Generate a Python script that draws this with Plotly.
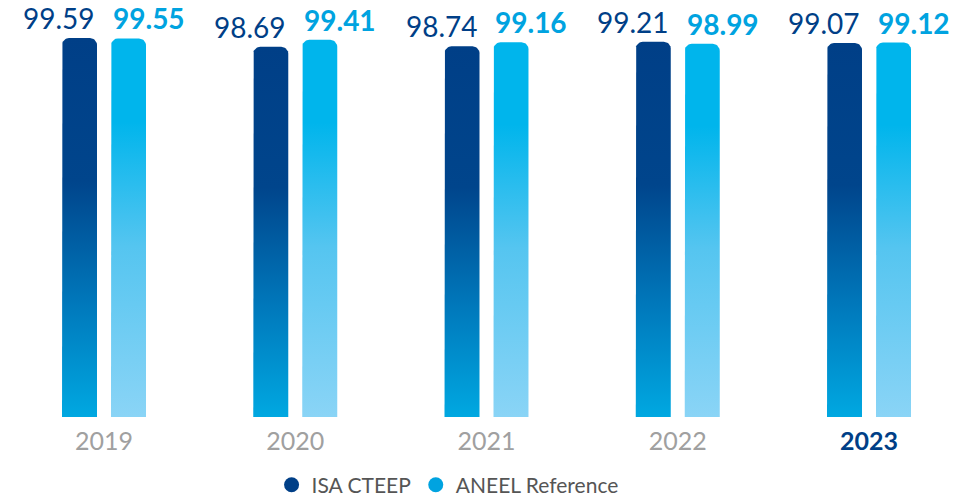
import numpy as np
import plotly.graph_objects as go

# ---- data ----
years = ["2019", "2020", "2021", "2022", "2023"]
isa_cteep = [99.59, 98.69, 98.74, 99.21, 99.07]
aneel_ref = [99.55, 99.41, 99.16, 98.99, 99.12]
series_names = ["ISA CTEEP", "ANEEL Reference"]

# ---- layout constants ----
W, H = 973, 496
M_TOP, M_BOT = 10, 79
Y_MIN, Y_MAX = 60.3, 102.5
X_MIN, X_MAX = -0.5438, 4.5438
BAR_W = 0.183          # bar width in group units
GAP = 0.073            # space between the two bars of a year
RADIUS_PX = 7          # rounded top corners

px_per_x = W / (X_MAX - X_MIN)
px_per_y = (H - M_TOP - M_BOT) / (Y_MAX - Y_MIN)

FONT = "Lato"
C_ISA = "#003f87"
C_ANEEL = "#00a3e0"

scale_isa = [[0.0, "#00a8e1"], [0.3, "#0078bb"], [0.62, "#00458c"], [1.0, "#003f87"]]
scale_aneel = [[0.0, "#8ad4f6"], [0.45, "#55c5f0"], [0.78, "#00b5ec"], [1.0, "#00b5ec"]]


def rounded_bar(x0, x1, top, base=Y_MIN):
    """Polygon for a bar with rounded top corners (data coordinates)."""
    rx = RADIUS_PX / px_per_x
    ry = RADIUS_PX / px_per_y
    t = np.linspace(0, np.pi / 2, 10)
    xs = [x0, x0]
    ys = [base, top - ry]
    # top-left corner
    xs += list(x0 + rx - rx * np.cos(t))
    ys += list(top - ry + ry * np.sin(t))
    # top-right corner
    xs += list(x1 - rx + rx * np.sin(t))
    ys += list(top - ry + ry * np.cos(t))
    xs += [x1, x1, x0]
    ys += [top - ry, base, base]
    return xs, ys


fig = go.Figure()

annotations = []
for i, (v_isa, v_an) in enumerate(zip(isa_cteep, aneel_ref)):
    # ISA CTEEP bar (left of centre)
    x1 = i - GAP / 2
    x0 = x1 - BAR_W
    xs, ys = rounded_bar(x0, x1, v_isa)
    fig.add_trace(go.Scatter(
        x=xs, y=ys, mode="lines", fill="toself", line=dict(width=0),
        fillgradient=dict(type="vertical", colorscale=scale_isa,
                          start=Y_MIN, stop=v_isa),
        hoverinfo="skip", showlegend=False))
    annotations.append(dict(
        x=x1, y=v_isa, xref="x", yref="y", text=f"{v_isa:.2f}",
        showarrow=False, xanchor="right", yanchor="bottom", yshift=1,
        font=dict(family=FONT, size=28, color=C_ISA)))

    # ANEEL reference bar (right of centre)
    a0 = i + GAP / 2
    a1 = a0 + BAR_W
    xs, ys = rounded_bar(a0, a1, v_an)
    fig.add_trace(go.Scatter(
        x=xs, y=ys, mode="lines", fill="toself", line=dict(width=0),
        fillgradient=dict(type="vertical", colorscale=scale_aneel,
                          start=Y_MIN, stop=v_an),
        hoverinfo="skip", showlegend=False))
    annotations.append(dict(
        x=a0, y=v_an, xref="x", yref="y", text=f"<b>{v_an:.2f}</b>",
        showarrow=False, xanchor="left", yanchor="bottom", yshift=1,
        font=dict(family=FONT, size=28, color=C_ANEEL)))

# legend entries as round markers
for name, col in zip(series_names, [C_ISA, C_ANEEL]):
    fig.add_trace(go.Scatter(
        x=[None], y=[None], mode="markers", name=name,
        marker=dict(symbol="circle", size=15, color=col)))

tick_text = years[:-1] + [f'<span style="color:{C_ISA}"><b>{years[-1]}</b></span>']

fig.update_layout(
    width=W, height=H,
    margin=dict(l=0, r=0, t=M_TOP, b=M_BOT),
    paper_bgcolor="white", plot_bgcolor="white",
    font=dict(family=FONT),
    annotations=annotations,
    xaxis=dict(range=[X_MIN, X_MAX], tickvals=list(range(len(years))),
               ticktext=tick_text, showgrid=False, zeroline=False,
               showline=False, ticks="", fixedrange=True,
               ticklabelstandoff=7,
               tickfont=dict(family=FONT, size=25, color="#a0a0a0")),
    yaxis=dict(range=[Y_MIN, Y_MAX], visible=False, showgrid=False,
               zeroline=False, fixedrange=True),
    legend=dict(orientation="h", x=0.46, xanchor="center",
                yref="container", y=0.022, yanchor="middle",
                font=dict(family=FONT, size=21, color="#555555"),
                itemwidth=30, tracegroupgap=0),
    showlegend=True,
)

fig.write_html("out.html")
